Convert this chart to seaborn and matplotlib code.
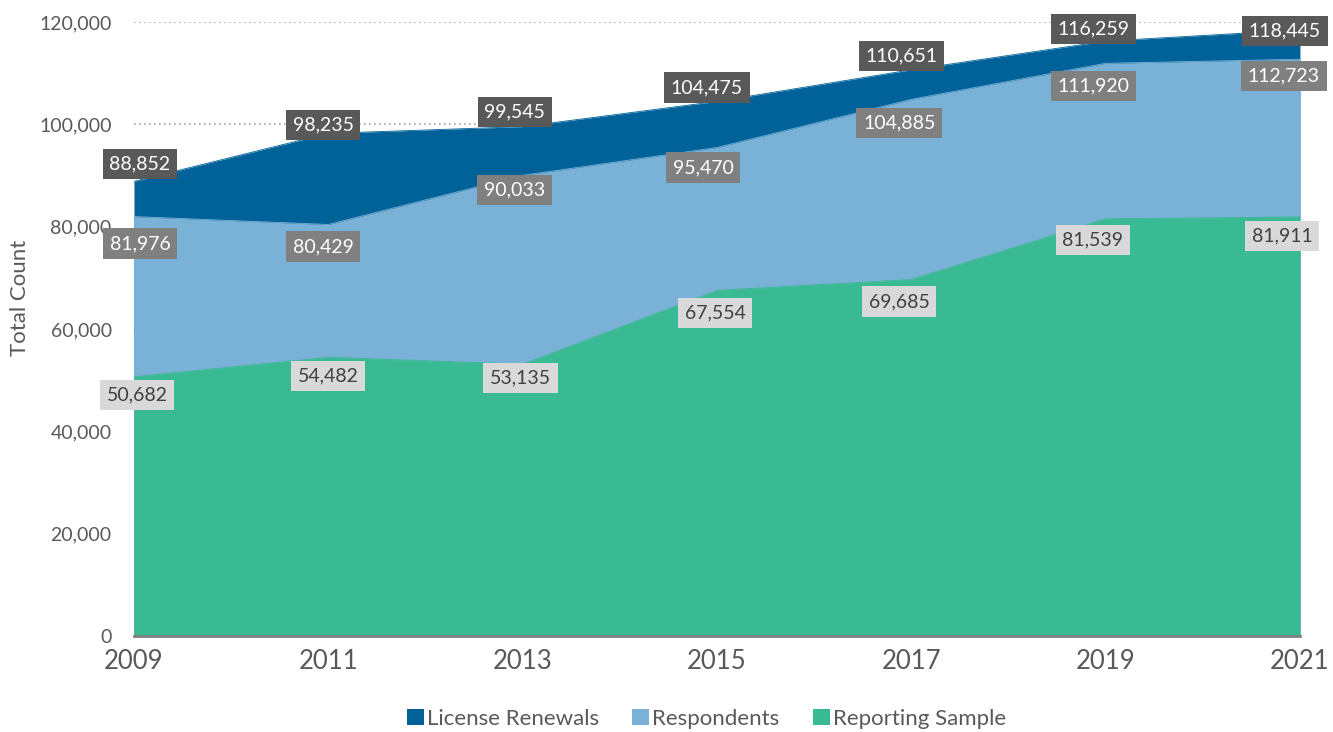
import matplotlib
matplotlib.use("Agg")
import matplotlib.pyplot as plt
import seaborn as sns
import pandas as pd
from matplotlib.patches import Patch

years = [2009, 2011, 2013, 2015, 2017, 2019, 2021]
license_renewals = [88852, 98235, 99545, 104475, 110651, 116259, 118445]
respondents = [81976, 80429, 90033, 95470, 104885, 111920, 112723]
reporting_sample = [50682, 54482, 53135, 67554, 69685, 81539, 81911]
series_names = ["License Renewals", "Respondents", "Reporting Sample"]
y_ticks = [0, 20000, 40000, 60000, 80000, 100000, 120000]

colors = {"License Renewals": "#006299", "Respondents": "#7ab1d6", "Reporting Sample": "#3aba93"}
box_face = {"License Renewals": "#595959", "Respondents": "#808080", "Reporting Sample": "#d9d9d9"}
box_text = {"License Renewals": "white", "Respondents": "white", "Reporting Sample": "#404040"}
# label offsets in pixels (dx, dy)
offsets = {
    "License Renewals": [(6, 17), (-5, 8), (-8, 15), (-10, 14), (-10, 14), (-12, 12), (-15, -1)],
    "Respondents": [(6, -27), (-5, -22), (-8, -15), (-14, -20), (-12, -24), (-12, -23), (-16, -17)],
    "Reporting Sample": [(3, -18), (0, -19), (-2, -14), (-2, -23), (-12, -22), (-13, -21), (-18, -19)],
}

df = pd.DataFrame({"Year": years,
                   "License Renewals": license_renewals,
                   "Respondents": respondents,
                   "Reporting Sample": reporting_sample})
long = df.melt(id_vars="Year", var_name="Series", value_name="Count")

sns.set_theme(style="white")
plt.rcParams["font.family"] = ["Lato", "DejaVu Sans"]

fig = plt.figure(figsize=(13.33, 7.32), dpi=100)
ax = fig.add_axes([0.1005, 0.131, 0.8747, 0.839])

for name in series_names:
    ax.fill_between(df["Year"], 0, df[name], color=colors[name], linewidth=0, zorder=2)
sns.lineplot(data=long, x="Year", y="Count", hue="Series", palette=colors,
             hue_order=series_names, linewidth=0.6, legend=False, ax=ax, zorder=2.5)

ax.set_xlim(2009, 2021)
ax.set_ylim(0, 120000)
ax.set_yticks(y_ticks)
ax.set_yticklabels([f"{v:,}" for v in y_ticks])
ax.set_xticks(years)
ax.set_xticklabels([str(y) for y in years])
ax.yaxis.grid(True, linestyle=(0, (1, 2)), color="#a6a6a6", linewidth=1.2, zorder=0)
ax.xaxis.grid(False)
ax.set_axisbelow(True)
for s in ["top", "right", "left"]:
    ax.spines[s].set_visible(False)
ax.spines["bottom"].set_color("#808080")
ax.spines["bottom"].set_linewidth(2)
ax.spines["bottom"].set_zorder(3)
ax.tick_params(axis="y", labelsize=14, colors="#595959", length=0, pad=16)
ax.tick_params(axis="x", labelsize=18.5, colors="#595959", length=0, pad=9)
ax.set_xlabel("")
ax.set_ylabel("Total Count", fontsize=16, color="#595959", va="center")
ax.yaxis.set_label_coords(-0.098, 0.55)

for name in series_names:
    for i, (x, v) in enumerate(zip(df["Year"], df[name])):
        dx, dy = offsets[name][i]
        ax.annotate(f"{v:,}", xy=(x, v), xytext=(dx * 0.72, dy * 0.72),
                    textcoords="offset points", ha="center", va="center",
                    fontsize=14, color=box_text[name], zorder=5,
                    bbox=dict(boxstyle="square,pad=0.34", fc=box_face[name], ec="none"),
                    annotation_clip=False)

handles = [Patch(facecolor=colors[n], edgecolor="none", label=n) for n in series_names]
leg = fig.legend(handles=handles, loc="center", bbox_to_anchor=(0.53, 0.018), ncol=3,
                 frameon=False, handlelength=0.75, handleheight=0.75,
                 handletextpad=0.15, columnspacing=1.5, prop={"size": 16})
for t in leg.get_texts():
    t.set_color("#595959")

fig.savefig("out.png", dpi=100)
